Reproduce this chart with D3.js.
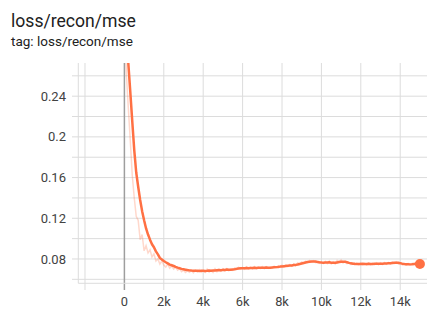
<!DOCTYPE html>
<html><head><meta charset="utf-8">
<script src="https://cdn.jsdelivr.net/npm/d3@7"></script>
<style>
html,body{margin:0;padding:0;background:#fff;overflow:hidden;}
text{font-family:Roboto,"Noto Sans",sans-serif;}
</style></head>
<body>
<svg id="c" width="427" height="309"></svg>
<script>
const title = "loss/recon/mse";
const tagLabel = "tag: loss/recon/mse";
const steps = d3.range(0, 15001, 100);
const rawValues = [
0.33,0.262,0.228,0.196,0.162,0.140,0.122,0.118,0.099,0.104,
0.088,0.093,0.086,0.089,0.082,0.085,0.078,0.080,0.075,0.078,
0.074,0.072,0.075,0.071,0.073,0.070,0.072,0.069,0.0705,0.0675,
0.069,0.0668,0.0685,0.0670,0.0688,0.0665,0.0690,0.0672,0.0695,0.0670,
0.0684,0.0668,0.0700,0.0672,0.0690,0.0668,0.0705,0.0675,0.0698,0.0680,
0.0702,0.0683,0.0706,0.0684,0.0700,0.0688,0.0712,0.0698,0.0718,0.0702,
0.0716,0.0700,0.0722,0.0703,0.0719,0.0702,0.0724,0.0705,0.0720,0.0706,
0.0726,0.0705,0.0723,0.0707,0.0719,0.0712,0.0728,0.0714,0.0733,0.0718,
0.0738,0.0721,0.0742,0.0726,0.0745,0.0730,0.0752,0.0735,0.0762,0.0748,
0.0770,0.0758,0.0779,0.0766,0.0785,0.0770,0.0782,0.0764,0.0772,0.0758,
0.0773,0.0756,0.0777,0.0754,0.0780,0.0752,0.0771,0.0750,0.0785,0.0768,
0.0790,0.0762,0.0778,0.0755,0.0765,0.0745,0.0760,0.0742,0.0758,0.0743,
0.0760,0.0744,0.0757,0.0742,0.0761,0.0743,0.0758,0.0745,0.0762,0.0744,
0.0763,0.0746,0.0765,0.0748,0.0766,0.0750,0.0770,0.0755,0.0772,0.0752,
0.0762,0.0742,0.0756,0.0740,0.0755,0.0741,0.0757,0.0745,0.0762,0.0748,
0.0751];
const smoothValues = [
0.33,0.30,0.272,0.244,0.215,0.187,0.165,0.151,0.138,0.127,
0.118,0.110,0.104,0.099,0.0945,0.0915,0.0875,0.0845,0.081,0.0795,
0.078,0.0768,0.0757,0.0745,0.0738,0.0731,0.0722,0.0715,0.0709,0.0703,
0.0699,0.0695,0.0691,0.0688,0.0686,0.0685,0.0684,0.0685,0.0683,0.0684,
0.0685,0.0683,0.0684,0.0686,0.0685,0.0687,0.0686,0.0689,0.0691,0.0690,
0.0693,0.0692,0.0696,0.0695,0.0694,0.0697,0.0699,0.0703,0.0706,0.0708,
0.0710,0.0709,0.0711,0.0710,0.0712,0.0711,0.0713,0.0712,0.0714,0.0713,
0.0715,0.0714,0.0716,0.0715,0.0714,0.0716,0.0718,0.0720,0.0722,0.0725,
0.0727,0.0729,0.0731,0.0733,0.0735,0.0737,0.0740,0.0742,0.0746,0.0751,
0.0756,0.0761,0.0766,0.0770,0.0773,0.0775,0.0776,0.0775,0.0771,0.0767,
0.0765,0.0764,0.0766,0.0765,0.0767,0.0764,0.0763,0.0762,0.0766,0.0770,
0.0773,0.0774,0.0772,0.0768,0.0762,0.0757,0.0754,0.0752,0.0751,0.0750,
0.0751,0.0752,0.0750,0.0751,0.0752,0.0751,0.0750,0.0752,0.0753,0.0752,
0.0754,0.0753,0.0755,0.0756,0.0757,0.0758,0.0760,0.0762,0.0764,0.0763,
0.0759,0.0754,0.0750,0.0748,0.0749,0.0747,0.0748,0.0750,0.0752,0.0755,
0.0751];
const xTickValues = [0,2000,4000,6000,8000,10000,12000,14000];
const xGridValues = [-2000,0,2000,4000,6000,8000,10000,12000,14000];
const yTickValues = [0.08,0.12,0.16,0.2,0.24];
const yGridValues = [0.06,0.08,0.10,0.12,0.14,0.16,0.18,0.20,0.22,0.24,0.26];

const svg = d3.select("#c");
const L = 78.3, R = 427, T = 63, B = 283.3;
const x = d3.scaleLinear().domain([-2340, 15360]).range([L, R]);
const y = d3.scaleLinear().domain([0.0561, 0.2726]).range([B, T]);

svg.append("text").attr("x",11).attr("y",27).attr("font-size",17.6).attr("fill","#212121").text(title);
svg.append("text").attr("x",11).attr("y",46).attr("font-size",13.5).attr("fill","#212121").text(tagLabel);

const grid = svg.append("g");
grid.selectAll("line.h").data(yGridValues).join("line")
  .attr("x1",72).attr("x2",R).attr("y1",d=>y(d)).attr("y2",d=>y(d))
  .attr("stroke","#dcdcdc").attr("stroke-width",1);
grid.selectAll("line.v").data(xGridValues).join("line")
  .attr("x1",d=>x(d)).attr("x2",d=>x(d)).attr("y1",T).attr("y2",290)
  .attr("stroke",d=>d===0?"#9e9e9e":"#dcdcdc").attr("stroke-width",d=>d===0?1.5:1);
svg.append("line").attr("x1",L).attr("x2",L).attr("y1",T).attr("y2",B).attr("stroke","#dcdcdc");
svg.append("line").attr("x1",L).attr("x2",R).attr("y1",B).attr("y2",B).attr("stroke","#dcdcdc");

svg.selectAll("text.yt").data(yTickValues).join("text")
  .attr("x",66).attr("y",d=>y(d)).attr("dy","0.35em").attr("text-anchor","end")
  .attr("font-size",13).attr("fill","#424242").text(d=>String(d));
svg.selectAll("text.xt").data(xTickValues).join("text")
  .attr("x",d=>x(d)).attr("y",306).attr("text-anchor","middle")
  .attr("font-size",12.8).attr("fill","#424242").text(d=>d===0?"0":(d/1000)+"k");

svg.append("clipPath").attr("id","clip").append("rect").attr("x",L).attr("y",T).attr("width",R-L).attr("height",B-T);
const g = svg.append("g").attr("clip-path","url(#clip)");
const rawData = steps.map((s,i)=>({s, v: rawValues[i]}));
const smData = steps.map((s,i)=>({s, v: smoothValues[i]}));
const line = d3.line().x(d=>x(d.s)).y(d=>y(d.v));
g.append("path").datum(rawData).attr("d",line).attr("fill","none")
  .attr("stroke","#ff7043").attr("stroke-opacity",0.27).attr("stroke-width",1.5);
g.append("path").datum(smData).attr("d",line).attr("fill","none")
  .attr("stroke","#ff7043").attr("stroke-width",2.5).attr("stroke-linejoin","round");
const last = smData[smData.length-1];
svg.append("circle").attr("cx",x(last.s)).attr("cy",y(last.v)).attr("r",5).attr("fill","#ff7043");
</script>
</body></html>
